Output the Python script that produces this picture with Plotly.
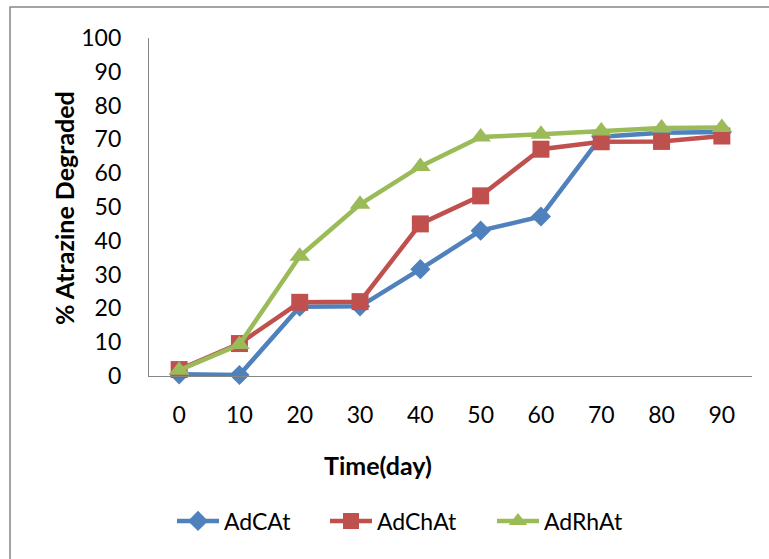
import plotly.graph_objects as go

# Sampling days (categories on the x axis)
days = ["0", "10", "20", "30", "40", "50", "60", "70", "80", "90"]

# % atrazine degraded for each treatment
adcat = [0.5, 0.3, 20.5, 20.6, 31.6, 43.0, 47.2, 70.8, 72.0, 72.2]
adchat = [1.9, 9.6, 21.8, 22.0, 45.0, 53.3, 67.1, 69.3, 69.4, 71.0]
adrhat = [1.7, 9.3, 35.4, 50.8, 62.0, 70.7, 71.5, 72.5, 73.4, 73.5]

y_ticks = [0, 10, 20, 30, 40, 50, 60, 70, 80, 90, 100]

FONT = "Lato, 'Open Sans', sans-serif"
AXIS_GREY = "#868686"

W, H = 769, 559
ML, MR, MT, MB = 149, 17, 38, 183
PW = W - ML - MR
PH = H - MT - MB


def px_x(px):
    return (px - ML) / PW


def px_y(py):
    return (H - MB - py) / PH


series = [
    ("AdCAt", adcat, "#4F81BD", "diamond", 15.5, 96),
    ("AdChAt", adchat, "#C0504D", "square", 17, 110),
    ("AdRhAt", adrhat, "#9BBB59", "triangle-up", 18, None),
]

fig = go.Figure()
for name, vals, color, symbol, msize, lw in series:
    kw = {}
    if lw is not None:
        kw["legendwidth"] = lw
    fig.add_trace(go.Scatter(
        x=days, y=vals, name=name, mode="lines+markers",
        line=dict(color=color, width=4.5),
        marker=dict(symbol=symbol, size=msize, color=color, line=dict(width=0)),
        cliponaxis=False,
        **kw,
    ))

fig.update_layout(
    width=W, height=H,
    margin=dict(l=ML, r=MR, t=MT, b=MB, pad=0),
    paper_bgcolor="white", plot_bgcolor="white",
    font=dict(family=FONT, size=23, color="#000000"),
    showlegend=True,
    legend=dict(
        orientation="h", x=px_x(172), xanchor="left",
        y=px_y(521), yanchor="middle",
        itemwidth=42,
        font=dict(family=FONT, size=23, color="#000000"),
        bgcolor="rgba(0,0,0,0)", borderwidth=0,
    ),
    xaxis=dict(
        type="category", range=[-0.5, 9.5],
        showline=True, linecolor=AXIS_GREY, linewidth=1.3,
        showgrid=False, zeroline=False, ticks="",
        ticklabelstandoff=18,
        tickfont=dict(family=FONT, size=23, color="#000000"),
    ),
    yaxis=dict(
        range=[0, 100], tickvals=y_ticks,
        showline=True, linecolor=AXIS_GREY, linewidth=1.3,
        showgrid=False, zeroline=False, ticks="",
        ticklabelstandoff=22,
        tickfont=dict(family=FONT, size=23, color="#000000"),
    ),
    annotations=[
        dict(text="<b>% Atrazine Degraded</b>", xref="paper", yref="paper",
             x=px_x(64), y=px_y(208), xanchor="center", yanchor="middle",
             textangle=-90, showarrow=False,
             font=dict(family=FONT, size=25, color="#000000")),
        dict(text="<b>Time(day)</b>", xref="paper", yref="paper",
             x=px_x(378), y=px_y(465), xanchor="center", yanchor="middle",
             showarrow=False,
             font=dict(family=FONT, size=25, color="#000000")),
    ],
    shapes=[
        dict(type="rect", xref="paper", yref="paper",
             x0=px_x(10), x1=px_x(790), y0=px_y(600), y1=px_y(7),
             line=dict(color=AXIS_GREY, width=1.5), fillcolor="rgba(0,0,0,0)",
             layer="below"),
    ],
)

fig.write_html("out.html")
